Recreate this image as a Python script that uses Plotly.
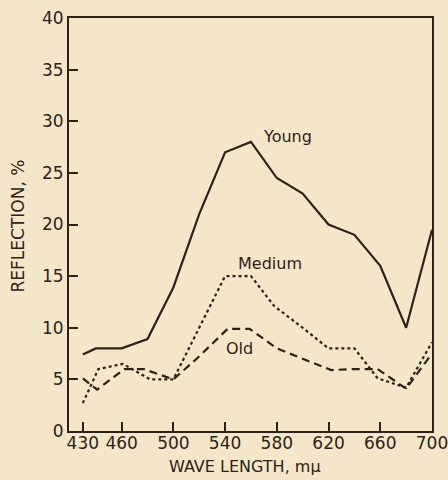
import plotly.graph_objects as go

# Reflection (%) of leaves of different ages vs wave length (m-mu)
wave_young = [430, 440, 460, 480, 500, 520, 540, 560, 580, 600, 620, 640, 660, 680, 700]
young = [7.4, 8.0, 8.0, 8.9, 13.9, 21.0, 27.0, 28.0, 24.5, 23.0, 20.0, 19.0, 16.0, 10.0, 19.5]

wave_medium = [430, 442, 461, 482, 500, 520, 540, 560, 578, 600, 620, 640, 658, 680, 700]
medium = [2.7, 6.0, 6.5, 5.0, 5.0, 10.0, 15.0, 15.0, 12.1, 10.0, 8.0, 8.0, 5.1, 4.2, 8.6]

wave_old = [430, 441, 462, 477, 500, 518, 542, 559, 580, 600, 622, 640, 658, 680, 700]
old = [5.1, 4.0, 6.0, 6.0, 5.0, 7.0, 9.9, 9.9, 8.0, 7.0, 5.9, 6.0, 6.0, 4.1, 7.5]

x_ticks = [430, 460, 500, 540, 580, 620, 660, 700]
y_ticks = [0, 5, 10, 15, 20, 25, 30, 35, 40]

ink = "#2b2219"
paper = "#f4e7c9"
font = "DejaVu Sans"

fig = go.Figure()

fig.add_trace(go.Scatter(x=wave_young, y=young, mode="lines",
                         line=dict(color=ink, width=2.2)))
fig.add_trace(go.Scatter(x=wave_medium, y=medium, mode="lines",
                         line=dict(color=ink, width=2.2, dash="dot")))
fig.add_trace(go.Scatter(x=wave_old, y=old, mode="lines",
                         line=dict(color=ink, width=2.2, dash="8px,5px")))

# curve labels
for label, lx, ly in [("Young", 588, 28.5), ("Medium", 575, 16.2), ("Old", 551, 8.0)]:
    fig.add_annotation(x=lx, y=ly, text=label, showarrow=False,
                       font=dict(family=font, size=16, color=ink))

# axis titles placed by hand (paper pixels converted to fractions)
W, H = 448, 480
ML, MR, MT, MB = 69, 16, 18, 49
pw, ph = W - ML - MR, H - MT - MB
fig.add_annotation(text="WAVE LENGTH, m\u03bc", showarrow=False,
                   xref="paper", yref="paper",
                   x=(245 - ML) / pw, y=-(466 - (H - MB)) / ph,
                   xanchor="center", yanchor="middle",
                   font=dict(family=font, size=16, color=ink))
fig.add_annotation(text="REFLECTION, %", showarrow=False, textangle=-90,
                   xref="paper", yref="paper",
                   x=-(ML - 17.5) / pw, y=(H - MB - 226) / ph,
                   xanchor="center", yanchor="middle",
                   font=dict(family=font, size=17, color=ink))

axis_common = dict(
    showgrid=False, zeroline=False, showline=True, linecolor=ink, linewidth=2,
    mirror=True, ticks="inside", ticklen=9, tickwidth=1.5, tickcolor=ink,
    tickfont=dict(family=font, size=17, color=ink), automargin=False,
    ticklabeloverflow="allow",
)

fig.update_layout(
    width=W, height=H,
    margin=dict(l=ML, r=MR, t=MT, b=MB),
    paper_bgcolor=paper, plot_bgcolor=paper,
    showlegend=False,
    xaxis=dict(range=[419.3, 700], tickvals=x_ticks, ticklabelstandoff=-4, **axis_common),
    yaxis=dict(range=[0, 40], tickvals=y_ticks, **axis_common),
)

# drop the default page margin so the figure sits at the window's corner
fig.write_html("out.html", config={"displayModeBar": False},
               post_script="document.body.style.margin='0px';"
                           "document.body.style.overflow='hidden';")
